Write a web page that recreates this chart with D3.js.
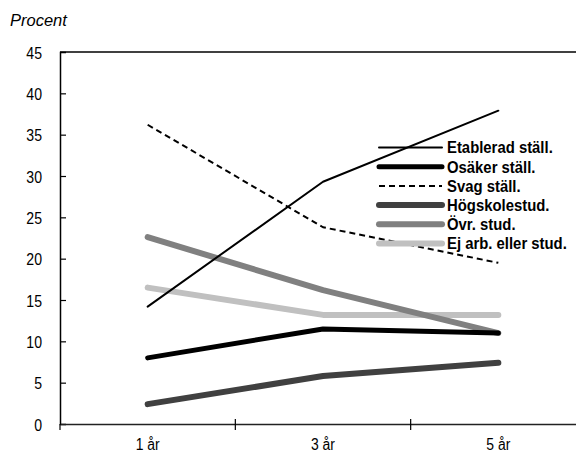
<!DOCTYPE html>
<html><head><meta charset="utf-8">
<script src="https://cdn.jsdelivr.net/npm/d3@7"></script>
<style>
body{margin:0;background:#fff;}
svg{display:block;}
.cond{font-family:"Liberation Sans",Arial,sans-serif;}
</style></head><body>
<svg id="c" width="576" height="454"></svg>
<script>
const categories = ["1 år", "3 år", "5 år"];
const seriesNames = ["Etablerad ställ.", "Osäker ställ.", "Svag ställ.", "Högskolestud.", "Övr. stud.", "Ej arb. eller stud."];
const etablerad = [14.2, 29.3, 37.9];
const osaker = [8.0, 11.5, 11.0];
const svag = [36.2, 23.8, 19.5];
const hogskole = [2.4, 5.8, 7.4];
const ovrStud = [22.6, 16.2, 11.0];
const ejArb = [16.5, 13.2, 13.2];
const yTicks = [0, 5, 10, 15, 20, 25, 30, 35, 40, 45];

(function(){
const seriesValues = [etablerad, osaker, svag, hogskole, ovrStud, ejArb];
const styles = [
  {color:"#000", width:2, dash:null},
  {color:"#000", width:5, dash:null},
  {color:"#000", width:2, dash:"6,4"},
  {color:"#404040", width:6, dash:null},
  {color:"#808080", width:6, dash:null},
  {color:"#c0c0c0", width:6, dash:null}
];

const svg = d3.select("#c");
const mL = 60, mT = 52, mB = 424, mR = 586;
const x = d3.scaleBand().domain(categories).range([mL, mR]);
const y = d3.scaleLinear().domain([0, 45]).range([mB, mT]);

svg.append("line").attr("x1", mL).attr("x2", 576).attr("y1", mT).attr("y2", mT)
  .attr("stroke", "#000").attr("stroke-width", 1.5);

const ya = svg.append("g").attr("transform", `translate(${mL},0)`)
  .call(d3.axisLeft(y).tickValues(yTicks).tickSize(-6).tickPadding(20.5));
ya.select(".domain").attr("stroke-width", 1.5);
ya.selectAll(".tick line").attr("stroke-width", 1.2);
ya.selectAll(".tick").filter(d => d === 0 || d === 45).select("line").remove();
ya.selectAll("text").attr("class", "cond").style("font-size", "16px").attr("fill", "#000")
  .attr("transform", "scale(0.88,1)").attr("dy", "0.38em");

const xa = svg.append("g").attr("transform", `translate(0,${mB})`)
  .call(d3.axisBottom(x).tickSize(0).tickPadding(15));
xa.select(".domain").attr("stroke-width", 1.5).attr("stroke", "#222");
xa.selectAll("text").attr("class", "cond").style("font-size", "16px").attr("fill", "#000")
  .attr("transform", "scale(0.87,1)");
const bounds = categories.map(c => x(c));
svg.append("g").selectAll("line").data(bounds).join("line")
  .attr("x1", d => d).attr("x2", d => d)
  .attr("y1", (d,i) => i === 0 ? mB : mB - 5).attr("y2", mB + 6)
  .attr("stroke", "#000").attr("stroke-width", 1.2);

const line = d3.line().x((d,i) => x(categories[i]) + x.bandwidth()/2).y(d => y(d));
[5, 4, 3, 2, 1, 0].forEach(i => {
  const s = styles[i];
  svg.append("path").datum(seriesValues[i]).attr("d", line)
    .attr("fill", "none").attr("stroke", s.color).attr("stroke-width", s.width)
    .attr("stroke-linecap", s.dash ? "butt" : "round").attr("stroke-linejoin", "round")
    .attr("stroke-dasharray", s.dash);
});

const lg = svg.append("g");
seriesNames.forEach((n, i) => {
  const s = styles[i];
  const yy = 147.5 + i * 19.2;
  lg.append("line").attr("x1", 379).attr("x2", 442).attr("y1", yy).attr("y2", yy)
    .attr("stroke", s.color).attr("stroke-width", s.width)
    .attr("stroke-linecap", s.dash ? "butt" : "round").attr("stroke-dasharray", s.dash);
  lg.append("text").attr("class", "cond")
    .attr("transform", `translate(447,${yy + 5.8}) scale(0.93,1)`)
    .style("font-size", "16px").style("font-weight", "bold").text(n);
});

svg.append("text").attr("x", 10).attr("y", 26)
  .style("font-family", "Liberation Sans, Arial, sans-serif").style("font-style", "italic")
  .style("font-size", "16.5px").text("Procent");
})();
</script></body></html>
